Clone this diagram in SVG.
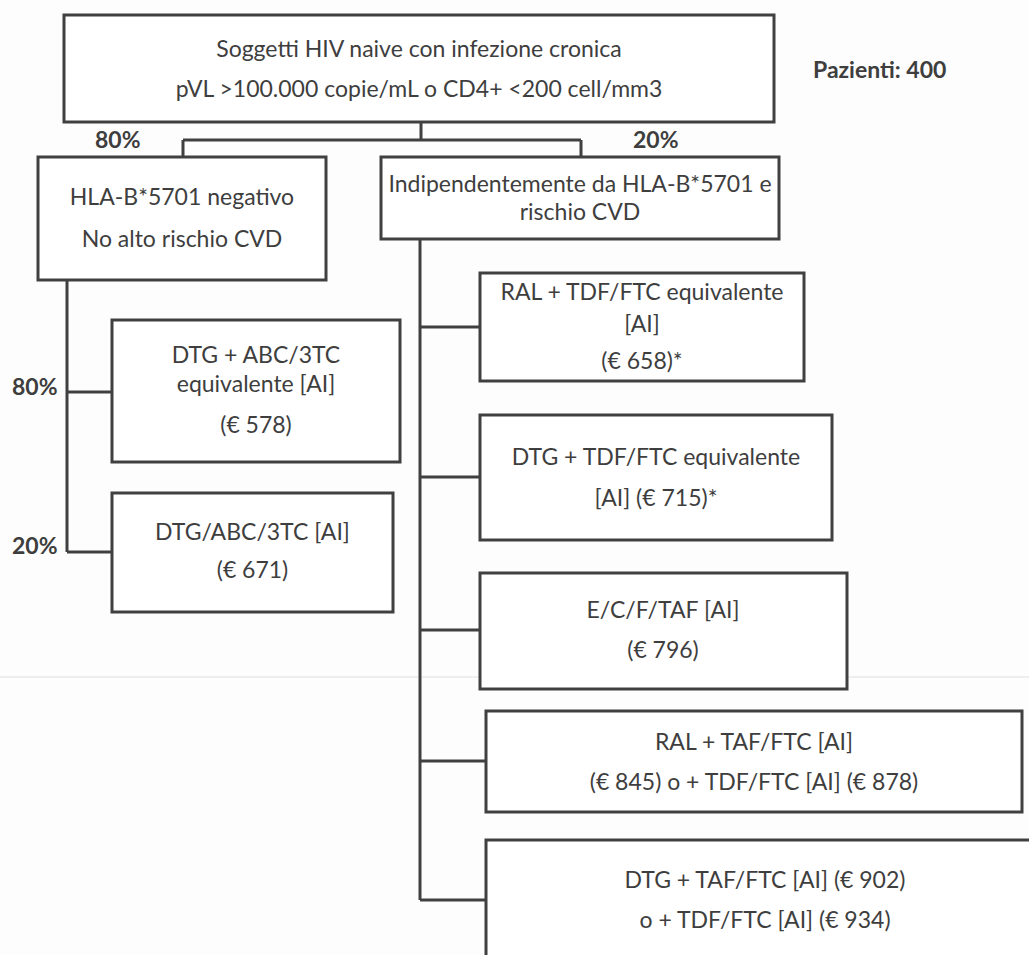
<svg xmlns="http://www.w3.org/2000/svg" width="1029" height="955" viewBox="0 0 1029 955">
<style>
.box{fill:#fff;stroke:#404040;stroke-width:3}
.t{font-family:Lato,"Liberation Sans",sans-serif;font-size:23px;fill:#3e3e3e;text-anchor:middle}
.b{font-family:Lato,"Liberation Sans",sans-serif;font-size:23px;fill:#3e3e3e;font-weight:bold}
.c{fill:none;stroke:#404040;stroke-width:3}
</style>
<rect width="1029" height="955" fill="#fdfdfd"/>
<line x1="0" y1="677" x2="1029" y2="677" stroke="#e9e9e9" stroke-width="1.5"/>
<g id="connectors">
<path class="c" d="M421 122 V140 M183 140 H581 M183 140 V157 M581 140 V157"/>
<path class="c" d="M67 280 V552 M67 392 H112 M67 552 H112"/>
<path class="c" d="M420 239 V900 M420 327 H480 M420 477 H480 M420 630 H480 M420 761 H486 M420 900 H486"/>
</g>
<g id="labels">
<text class="b" x="813" y="78">Pazienti: 400</text>
<text class="b" x="95" y="148">80%</text>
<text class="b" x="633" y="148">20%</text>
<text class="b" x="12" y="395">80%</text>
<text class="b" x="12" y="554">20%</text>
</g>
<g id="root">
<rect class="box" x="64" y="15" width="710" height="107"/>
<text class="t" x="419" y="57">Soggetti HIV naive con infezione cronica</text>
<text class="t" x="419" y="97">pVL &gt;100.000 copie/mL o CD4+ &lt;200 cell/mm3</text>
</g>
<g id="hla-neg">
<rect class="box" x="38" y="157" width="288" height="123"/>
<text class="t" x="182" y="205">HLA-B*5701 negativo</text>
<text class="t" x="182" y="247">No alto rischio CVD</text>
</g>
<g id="indip">
<rect class="box" x="381" y="157" width="398" height="82"/>
<text class="t" x="580" y="192">Indipendentemente da HLA-B*5701 e</text>
<text class="t" x="580" y="220">rischio CVD</text>
</g>
<g id="dtg-abc">
<rect class="box" x="112" y="320" width="288" height="142"/>
<text class="t" x="256" y="363">DTG + ABC/3TC</text>
<text class="t" x="256" y="392">equivalente [AI]</text>
<text class="t" x="256" y="433">(€ 578)</text>
</g>
<g id="dtg-abc-3tc">
<rect class="box" x="112" y="493" width="281" height="119"/>
<text class="t" x="252.5" y="540">DTG/ABC/3TC [AI]</text>
<text class="t" x="252.5" y="578">(€ 671)</text>
</g>
<g id="ral-tdf">
<rect class="box" x="480" y="273" width="324" height="108"/>
<text class="t" x="642" y="300">RAL + TDF/FTC equivalente</text>
<text class="t" x="642" y="332">[AI]</text>
<text class="t" x="642" y="369">(€ 658)*</text>
</g>
<g id="dtg-tdf">
<rect class="box" x="480" y="415" width="352" height="125"/>
<text class="t" x="656" y="465">DTG + TDF/FTC equivalente</text>
<text class="t" x="656" y="506">[AI] (€ 715)*</text>
</g>
<g id="ecftaf">
<rect class="box" x="480" y="573" width="367" height="116"/>
<text class="t" x="663" y="618">E/C/F/TAF [AI]</text>
<text class="t" x="663" y="658">(€ 796)</text>
</g>
<g id="ral-taf">
<rect class="box" x="486" y="711" width="536" height="101"/>
<text class="t" x="754" y="750">RAL + TAF/FTC [AI]</text>
<text class="t" x="754" y="790">(€ 845) o + TDF/FTC [AI] (€ 878)</text>
</g>
<g id="dtg-taf">
<rect class="box" x="486" y="840" width="560" height="130"/>
<text class="t" x="765" y="888">DTG + TAF/FTC [AI] (€ 902)</text>
<text class="t" x="765" y="928">o + TDF/FTC [AI] (€ 934)</text>
</g>
</svg>
